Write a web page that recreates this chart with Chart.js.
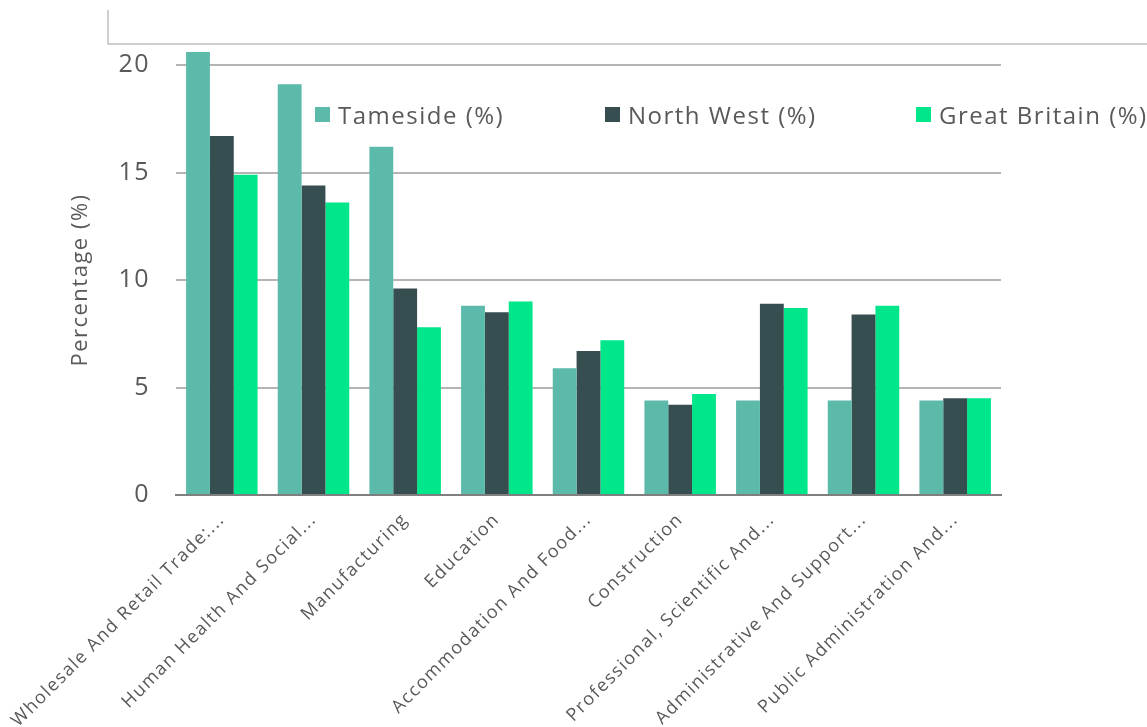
<!DOCTYPE html>
<html>
<head>
<meta charset="utf-8">
<script src="https://cdn.jsdelivr.net/npm/chart.js@4"></script>
<style>
  body { margin: 0; background: #fff; font-family: "Open Sans", sans-serif; }
  #wrap { position: relative; width: 1147px; height: 727px; }
  #frame { position: absolute; left: 107px; top: 10px; width: 1040px; height: 33px;
           border-left: 2px solid #cfcfcf; border-bottom: 2px solid #cfcfcf; }
  #legend { position: absolute; top: 98px; left: 0; width: 1147px; height: 34px; }
  .item { position: absolute; display: flex; align-items: center; font-size: 24px; color: #595959; letter-spacing: 1.5px; white-space: nowrap; }
  .sw { width: 15px; height: 15px; margin-right: 8px; }
</style>
</head>
<body>
<div id="wrap">
  <div id="frame"></div>
  <canvas id="chart" width="1147" height="727"></canvas>
  <div id="legend"></div>
</div>
<script>
// ----- DATA -----
const categories = [
    'Wholesale And Retail Trade:...', 'Human Health And Social...', 'Manufacturing', 'Education',
    'Accommodation And Food...', 'Construction', 'Professional, Scientific And...',
    'Administrative And Support...', 'Public Administration And...'
];
const seriesNames = ['Tameside (%)', 'North West (%)', 'Great Britain (%)'];
const tameside = [20.6, 19.1, 16.2, 8.8, 5.9, 4.4, 4.4, 4.4, 4.4];
const northWest = [16.7, 14.4, 9.6, 8.5, 6.7, 4.2, 8.9, 8.4, 4.5];
const greatBritain = [14.9, 13.6, 7.8, 9.0, 7.2, 4.7, 8.7, 8.8, 4.5];
const yTicks = [0, 5, 10, 15, 20];

const colors = ['#5bbaa9', '#364e4f', '#00e68a'];
const legendX = [315, 605, 916];

// ----- LEGEND -----
document.getElementById('legend').innerHTML = seriesNames.map((n, i) => `
    <div class="item" style="left:${legendX[i]}px"><span class="sw" style="background:${colors[i]}"></span>${n}</div>
`).join('');

// wide tracking like the original export
const spacing = {
    id: 'spacing',
    afterInit: c => { c.ctx.letterSpacing = '1.5px'; },
    beforeUpdate: c => { c.ctx.letterSpacing = '1.5px'; },
    beforeDraw: c => { c.ctx.letterSpacing = '1.5px'; }
};

// ----- CHART -----
const ctx = document.getElementById('chart').getContext('2d');
new Chart(ctx, {
    type: 'bar',
    data: {
        labels: categories,
        datasets: [tameside, northWest, greatBritain].map((d, i) => ({
            label: seriesNames[i], data: d, backgroundColor: colors[i],
            categoryPercentage: 0.78, barPercentage: 1.0, clip: false
        }))
    },
    options: {
        responsive: false,
        animation: false,
        layout: { padding: { left: 68, top: 65, right: 146, bottom: 0 } },
        plugins: { legend: { display: false }, tooltip: { enabled: false } },
        scales: {
            x: {
                grid: { display: false, drawTicks: false },
                border: { color: '#7f7f7f', width: 2 },
                ticks: { color: '#595959', font: { family: 'Open Sans', size: 18 }, minRotation: 45, maxRotation: 45, padding: 14 },
                afterFit: s => {
                    s.height = 727 - 495;
                    s.paddingLeft = 0;
                    s.paddingRight = 0;
                }
            },
            y: {
                min: 0, max: 20,
                afterBuildTicks: s => { s.ticks = yTicks.map(v => ({ value: v })); },
                grid: { color: '#b4b4b4', lineWidth: 2, drawTicks: false },
                border: { display: false },
                ticks: { color: '#595959', font: { family: 'Open Sans', size: 25 }, padding: 26 },
                title: { display: true, text: 'Percentage (%)', color: '#595959', font: { family: 'Open Sans', size: 22 }, padding: 0 },
                afterFit: s => {
                    s.width = 176 - 68;
                    s.paddingTop = 0;
                    s.paddingBottom = 0;
                }
            }
        }
    },
    plugins: [spacing]
});
</script>
</body>
</html>
